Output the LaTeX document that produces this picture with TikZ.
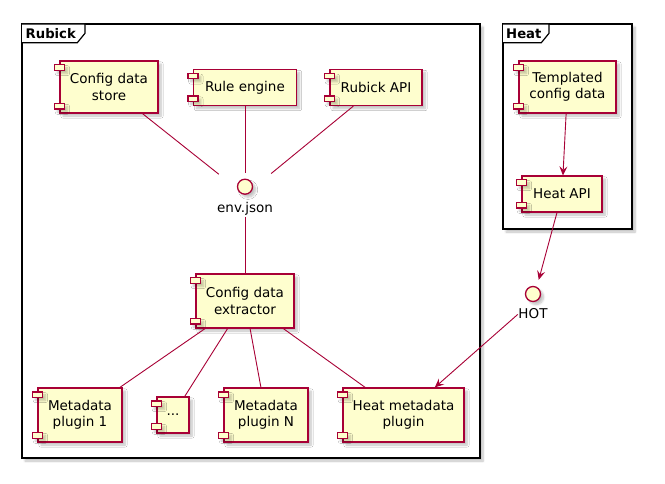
\documentclass[tikz,border=0pt]{standalone}
\usepackage{fontspec}
\setmainfont{DejaVu Sans}
\usetikzlibrary{arrows.meta,shadows.blur}
\definecolor{compfill}{HTML}{FEFECE}
\definecolor{compline}{HTML}{A80036}
\tikzset{
  shd/.style={blur shadow={shadow xshift=3pt,shadow yshift=-3pt,shadow blur steps=6,shadow opacity=25}},
  comp/.style={draw=compline, fill=compfill, line width=1.2pt, inner sep=0pt, align=center,
    font=\fontsize{13.5}{16.4}\selectfont, shd},
  nub/.style={draw=compline, fill=compfill, line width=1.2pt, shd},
  ifbox/.style={inner sep=0pt},
  ifcirc/.style={circle, draw=compline, fill=compfill, line width=1.3pt, minimum size=15pt, inner sep=0pt, shd},
  iflabel/.style={anchor=base, inner sep=0pt, font=\fontsize{13.5}{16.4}\selectfont},
  frm/.style={draw=black, fill=white, line width=1.4pt, shd},
  tab/.style={draw=black, fill=white, line width=1.2pt},
  tabtext/.style={anchor=west, inner sep=0pt, font=\fontsize{13.2}{16}\selectfont\bfseries},
  conn/.style={draw=compline, line width=0.9pt},
  arr/.style={conn, -{Stealth[length=9pt,width=8pt,inset=3.5pt]}}
}
\begin{document}
\begin{tikzpicture}[x=1pt,y=-1pt]
\useasboundingbox (0,0) rectangle (665,484);
% frames
\path[frm] (22,24) rectangle (480,458);
\path[frm] (503,24) rectangle (632,229);
\path[tab] (22,24) -- (85,24) -- (85,33.3) -- (77.3,42.7) -- (22,42.7);
\path[tab] (503,24) -- (549,24) -- (549,33.3) -- (541.3,42.7) -- (503,42.7);
\node[tabtext] (rubicktitle) at (25.5,33.5) {Rubick};
\node[tabtext] (heattitle) at (506,33.5) {Heat};
% components
\node[comp, minimum width=98pt, minimum height=52pt] (cds) at (109,87) {Config data\\store};
\node[comp, minimum width=103pt, minimum height=36pt] (re) at (245,87.5) {Rule engine};
\node[comp, minimum width=92pt, minimum height=36pt] (api) at (376,87.5) {Rubick API};
\node[comp, minimum width=98pt, minimum height=54pt] (ext) at (245,301) {Config data\\extractor};
\node[comp, minimum width=84pt, minimum height=54pt] (p1) at (80,415) {Metadata\\plugin 1};
\node[comp, minimum width=32pt, minimum height=36pt] (dots) at (173,415) {...};
\node[comp, minimum width=84pt, minimum height=54pt] (pN) at (266,415) {Metadata\\plugin N};
\node[comp, minimum width=121pt, minimum height=54pt] (hmp) at (403.5,415) {Heat metadata\\plugin};
\node[comp, minimum width=97pt, minimum height=52pt] (tcd) at (567.5,87) {Templated\\config data};
\node[comp, minimum width=80pt, minimum height=36pt] (hapi) at (562,194) {Heat API};
\foreach \n in {cds,re,api,ext,p1,dots,pN,hmp,tcd,hapi}{
  \path[nub] ([xshift=-5pt,yshift=-4.5pt]\n.north west) rectangle ([xshift=5pt,yshift=-10pt]\n.north west);
  \path[nub] ([xshift=-5pt,yshift=4.5pt]\n.south west) rectangle ([xshift=5pt,yshift=10pt]\n.south west);
}
% interfaces
\node[ifbox, minimum width=52pt, minimum height=44pt] (env) at (245,195) {};
\node[ifcirc] (envc) at (245,186.7) {};
\node[iflabel] (envl) at (245,212.3) {env.json};
\node[ifbox, minimum width=30pt, minimum height=42pt] (hot) at (533,301) {};
\node[ifcirc] (hotc) at (533,294) {};
\node[iflabel] (hotl) at (533,319) {HOT};
% connectors
\draw[conn] (cds) -- (env);
\draw[conn] (re) -- (env);
\draw[conn] (api) -- (env);
\draw[conn] (env) -- (ext);
\draw[conn] (ext) -- (p1);
\draw[conn] (ext) -- (dots);
\draw[conn] (ext) -- (pN);
\draw[conn] (ext) -- (hmp);
\draw[arr] (tcd) -- (hapi);
\draw[arr] (hapi) -- (hot);
\draw[arr] (hot) -- (hmp);
\end{tikzpicture}
\end{document}
